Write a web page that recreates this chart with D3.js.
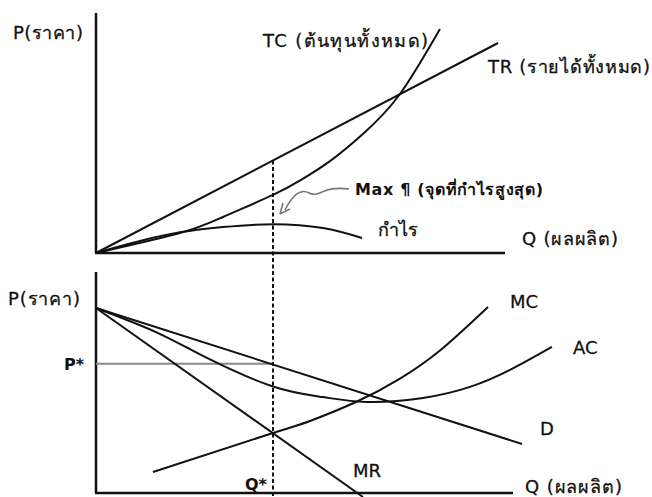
<!DOCTYPE html>
<html><head><meta charset="utf-8">
<script src="https://cdn.jsdelivr.net/npm/d3@7/dist/d3.min.js"></script>
<style>
body{margin:0;background:#fff;}
text{font-family:"DejaVu Sans","Noto Sans",sans-serif;fill:#111;stroke:#111;stroke-width:0.3px;}
text.b{stroke:none;}
</style></head>
<body>
<svg id="c" width="652" height="497"></svg>
<script>
// ---- data (Q in units, values in each panel's units) ----
const qStar = 44.25;
const pStar = 58.5;
// top panel
const trPoints = [[0,0],[100.5,87.5]];
const tcPoints = [[0,0],[21,8.3],[31.75,15],[44.25,24.2],[51,30.2],[58.5,38.3],[67,50],[76,66.25],[86,93.3]];
const profitPoints = [[0,0],[11,5],[21,8.6],[31.75,10.8],[44.25,12.0],[56.75,10.4],[66.5,6.25]];
// bottom panel
const dPoints = [[0,83.7],[106.5,22.2]];
const mrPoints = [[0,83.7],[66.75,-1.8]];
const acPoints = [[0,83.7],[15.25,72.6],[27.75,61.1],[44.25,48.2],[56.75,43.4],[67.75,41.2],[81.75,43],[93.5,48],[103.5,55.7],[114,66.1]];
const mcPoints = [[14.25,9.5],[44.25,27.15],[53.5,32.6],[65.25,41.4],[76,51.8],[86,64.5],[98,84.2]];
const labels = {
  yTop:"P(ราคา)", yBot:"P(ราคา)", x:"Q (ผลผลิต)",
  tc:"TC (ต้นทุนทั้งหมด)", tr:"TR (รายได้ทั้งหมด)",
  max:"Max ¶ (จุดที่กำไรสูงสุด)", profit:"กำไร",
  mc:"MC", ac:"AC", d:"D", mr:"MR", pStar:"P*", qStar:"Q*"
};

const svg = d3.select("#c");
const x = d3.scaleLinear().domain([0,100]).range([96,496]);
const yT = d3.scaleLinear().domain([0,100]).range([253,13]);
const yB = d3.scaleLinear().domain([0,100]).range([493,272]);

const lineT = d3.line().x(d=>x(d[0])).y(d=>yT(d[1])).curve(d3.curveNatural);
const lineB = d3.line().x(d=>x(d[0])).y(d=>yB(d[1])).curve(d3.curveNatural);

function curve(gen, pts, col, w){
  svg.append("path").attr("d",gen(pts)).attr("fill","none")
    .attr("stroke",col||"#111").attr("stroke-width",w||2);
}
// axes
function axis(y0,y1,xEnd){
  svg.append("line").attr("x1",x(0)).attr("x2",x(0)).attr("y1",y0).attr("y2",y1)
    .attr("stroke","#111").attr("stroke-width",2.5);
  svg.append("line").attr("x1",x(0)-1).attr("x2",x(xEnd)).attr("y1",y1).attr("y2",y1)
    .attr("stroke","#111").attr("stroke-width",2.5);
}
axis(yT(100), yT(0), 102.25);
axis(yB(100), yB(0), 104.25);

// top curves
curve(lineT, trPoints);
curve(lineT, tcPoints);
curve(lineT, profitPoints);
// bottom curves
svg.append("line").attr("x1",x(0)).attr("x2",x(qStar)).attr("y1",yB(pStar)).attr("y2",yB(pStar))
  .attr("stroke","#888").attr("stroke-width",2);
curve(lineB, dPoints);
curve(lineB, mrPoints);
curve(lineB, acPoints);
curve(lineB, mcPoints);

// dashed Q* line from TR down to bottom axis
const trAtQ = trPoints[1][1]/trPoints[1][0]*qStar;
svg.append("line").attr("x1",x(qStar)).attr("x2",x(qStar))
  .attr("y1",yT(trAtQ)).attr("y2",497)
  .attr("stroke","#111").attr("stroke-width",2).attr("stroke-dasharray","4,2.5");

// gray squiggle arrow
svg.append("path")
  .attr("d",`M349,189 C340,188 333,188 327,190 C320,193 315,196 309,193 C300,188 292,196 285,210`)
  .attr("fill","none").attr("stroke","#777").attr("stroke-width",1.6);
svg.append("path").attr("d","M280,214 L283,203 M280,214 L290,209")
  .attr("fill","none").attr("stroke","#777").attr("stroke-width",1.6);

function txt(s,xx,yy,size,len,weight){
  const t = svg.append("text").attr("x",xx).attr("y",yy).attr("font-size",size)
    .attr("font-weight",weight||"normal").text(s);
  if(weight==="bold") t.attr("class","b");
  if(len) t.attr("textLength",len).attr("lengthAdjust","spacing");
}
txt(labels.yTop,13,39,18,70);
txt(labels.tc,263,47,18,165);
txt(labels.tr,488,73,18,162);
txt(labels.max,355,195,16,188,"bold");
txt(labels.profit,378,236,18,40);
txt(labels.x,522,245,18,96);
txt(labels.yBot,8,305,18,72);
txt(labels.pStar,64,370,16,null,"bold");
txt(labels.qStar,245,490,16,null,"bold");
txt(labels.mc,510,308,18);
txt(labels.ac,573,354,18);
txt(labels.d,540,435,18);
txt(labels.mr,353,477,18);
txt(labels.x,525,493,18,97);
</script>
</body></html>
